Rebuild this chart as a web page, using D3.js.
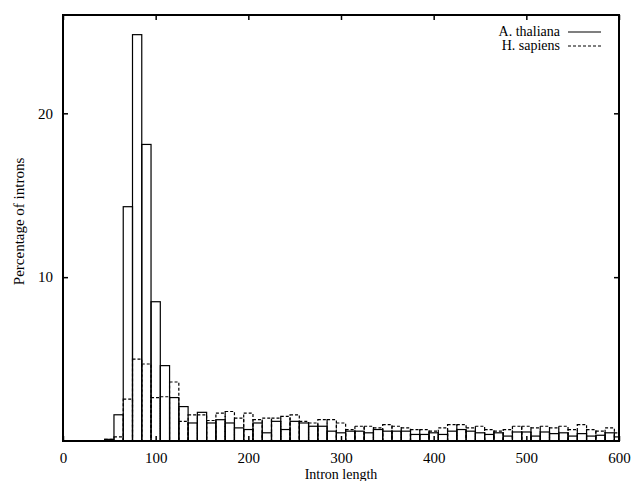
<!DOCTYPE html>
<html>
<head>
<meta charset="utf-8">
<script src="https://cdn.jsdelivr.net/npm/d3@7"></script>
<style>
  body { margin: 0; background: #fff; }
  text { font-family: "Liberation Serif", "Times New Roman", serif; fill: #000; }
</style>
</head>
<body>
<div id="chart"></div>
<script>
var svgWidth = 632;
var svgHeight = 481;

var margin = { top: 15, right: 13, bottom: 40, left: 63 };

var width = svgWidth - margin.left - margin.right;
var height = svgHeight - margin.top - margin.bottom;

// bin centres (intron length, width 10)
var binCentres = [50, 60, 70, 80, 90, 100, 110, 120, 130, 140, 150, 160, 170, 180, 190,
    200, 210, 220, 230, 240, 250, 260, 270, 280, 290, 300, 310, 320, 330, 340,
    350, 360, 370, 380, 390, 400, 410, 420, 430, 440, 450, 460, 470, 480, 490,
    500, 510, 520, 530, 540, 550, 560, 570, 580, 590, 600];

// percentage of introns, A. thaliana (solid)
var thaliana = [0.1, 1.6, 14.3, 24.8, 18.1, 8.5, 4.6, 2.65, 2.1, 1.1, 1.75, 1.1, 1.3, 1.1, 0.8,
    0.7, 1.1, 0.5, 1.2, 0.7, 1.2, 1.1, 0.9, 0.9, 0.6, 0.5, 0.6, 0.6, 0.5, 0.7,
    0.6, 0.6, 0.6, 0.4, 0.4, 0.5, 0.4, 0.6, 0.7, 0.6, 0.5, 0.4, 0.5, 0.3, 0.55,
    0.55, 0.3, 0.55, 0.45, 0.5, 0.3, 0.45, 0.3, 0.35, 0.5, 0.25];

// percentage of introns, H. sapiens (dashed)
var sapiens = [0.1, 0.25, 2.55, 5.0, 4.7, 2.65, 2.7, 3.6, 1.2, 1.6, 1.6, 1.25, 1.7, 1.8, 1.4,
    1.7, 1.3, 1.4, 1.4, 1.5, 1.6, 1.2, 1.1, 1.3, 1.3, 1.1, 0.7, 0.9, 0.9, 0.8,
    1.0, 0.9, 0.8, 0.7, 0.7, 0.6, 0.8, 1.0, 1.0, 0.8, 0.9, 0.7, 0.6, 0.7, 0.9,
    0.9, 0.8, 0.9, 0.8, 0.9, 0.7, 1.0, 0.7, 0.6, 0.8, 0.5];

var xTicks = [0, 100, 200, 300, 400, 500, 600];
var yTicks = [10, 20];
var binWidth = 10;

var svg = d3.select("#chart")
    .append("svg")
    .attr("width", svgWidth)
    .attr("height", svgHeight);

var chartGroup = svg.append("g")
    .attr("transform", `translate(${margin.left}, ${margin.top})`);

var xScale = d3.scaleLinear().domain([0, 600]).range([0, width]);
var yScale = d3.scaleLinear().domain([0, 26]).range([height, 0]);

svg.append("defs").append("clipPath")
    .attr("id", "plotClip")
    .append("rect")
    .attr("width", width)
    .attr("height", height);

var bars = chartGroup.append("g").attr("clip-path", "url(#plotClip)");

function drawBoxes(values, dash) {
    bars.append("g").selectAll("rect")
        .data(values)
        .enter()
        .append("rect")
        .attr("x", (d, i) => xScale(binCentres[i] - binWidth / 2))
        .attr("width", xScale(binWidth) - xScale(0))
        .attr("y", d => yScale(d))
        .attr("height", d => yScale(0) - yScale(d))
        .attr("fill", "none")
        .attr("stroke", "#000")
        .attr("stroke-width", 1.2)
        .attr("stroke-dasharray", dash);
}
drawBoxes(thaliana, null);
drawBoxes(sapiens, "3,2");

// axes (ticks inward, mirrored)
var bottomAxis = d3.axisBottom(xScale).tickValues(xTicks).tickSize(-5).tickPadding(11);
var topAxis = d3.axisTop(xScale).tickValues(xTicks).tickSize(-5).tickFormat("");
var leftAxis = d3.axisLeft(yScale).tickValues(yTicks).tickSize(-5).tickPadding(10);
var rightAxis = d3.axisRight(yScale).tickValues(yTicks).tickSize(-5).tickFormat("");

function styleAxis(g) {
    g.select(".domain").remove();
    g.selectAll(".tick line").attr("stroke", "#000").attr("stroke-width", 1.5);
    g.selectAll(".tick text").style("font-size", "15px")
        .style("font-family", "'Liberation Serif', serif");
}

chartGroup.append("g").attr("transform", `translate(0, ${height})`).call(bottomAxis).call(styleAxis);
chartGroup.append("g").call(topAxis).call(styleAxis);
chartGroup.append("g").call(leftAxis).call(styleAxis);
chartGroup.append("g").attr("transform", `translate(${width}, 0)`).call(rightAxis).call(styleAxis);

// frame
chartGroup.append("rect")
    .attr("width", width)
    .attr("height", height)
    .attr("fill", "none")
    .attr("stroke", "#000")
    .attr("stroke-width", 2);

// axis labels
chartGroup.append("text")
    .attr("x", width / 2)
    .attr("y", height + 38)
    .attr("text-anchor", "middle")
    .style("font-size", "14px")
    .text("Intron length");

chartGroup.append("text")
    .attr("transform", "rotate(-90)")
    .attr("x", -(yScale(13.4)))
    .attr("y", 24 - margin.left)
    .attr("text-anchor", "middle")
    .style("font-size", "15px")
    .text("Percentage of introns");

// legend
var legendItems = [
    { name: "A. thaliana", dash: null },
    { name: "H. sapiens", dash: "3,2" }
];
var legend = chartGroup.append("g")
    .attr("transform", `translate(${width - 59}, 17)`);
legendItems.forEach(function (item, i) {
    var row = legend.append("g").attr("transform", `translate(0, ${i * 14})`);
    row.append("text")
        .attr("x", 0)
        .attr("y", 0)
        .attr("dy", "0.32em")
        .attr("text-anchor", "end")
        .style("font-size", "14px")
        .text(item.name);
    row.append("line")
        .attr("x1", 8)
        .attr("x2", 41)
        .attr("stroke", "#000")
        .attr("stroke-width", 1.2)
        .attr("stroke-dasharray", item.dash);
});
</script>
</body>
</html>
